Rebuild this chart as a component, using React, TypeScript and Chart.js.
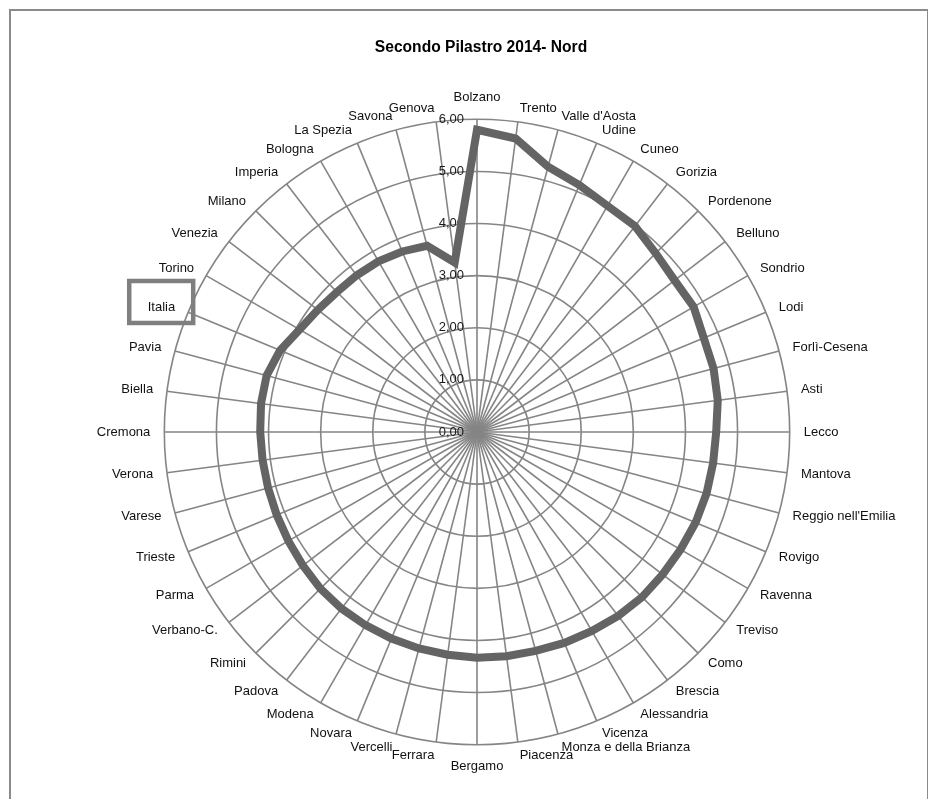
import React, { useEffect, useRef } from "react";
import { Chart, registerables } from "chart.js";

Chart.register(...registerables);

const TITLE = "Secondo Pilastro 2014- Nord";

const CATEGORIES = [
  "Bolzano", "Trento", "Valle d'Aosta", "Udine", "Cuneo", "Gorizia",
  "Pordenone", "Belluno", "Sondrio", "Lodi", "Forlì-Cesena", "Asti",
  "Lecco", "Mantova", "Reggio nell'Emilia", "Rovigo", "Ravenna", "Treviso",
  "Como", "Brescia", "Alessandria", "Vicenza", "Monza e della Brianza", "Piacenza",
  "Bergamo", "Ferrara", "Vercelli", "Novara", "Modena", "Padova",
  "Rimini", "Verbano-C.", "Parma", "Trieste", "Varese", "Verona",
  "Cremona", "Biella", "Pavia", "Italia", "Torino", "Venezia",
  "Milano", "Imperia", "Bologna", "La Spezia", "Savona", "Genova",
];

const VALUES = [
  5.80, 5.68, 5.27, 5.13, 5.01, 4.98,
  4.85, 4.78, 4.80, 4.71, 4.70, 4.66,
  4.59, 4.57, 4.56, 4.54, 4.51, 4.49,
  4.48, 4.45, 4.41, 4.38, 4.35, 4.34,
  4.33, 4.31, 4.30, 4.29, 4.28, 4.27,
  4.25, 4.21, 4.18, 4.16, 4.15, 4.15,
  4.16, 4.18, 4.18, 4.09, 3.93, 3.85,
  3.80, 3.79, 3.78, 3.75, 3.70, 3.28,
];

const TICK_VALUES = [0, 1, 2, 3, 4, 5, 6];
const TICK_LABELS = ["0,00", "1,00", "2,00", "3,00", "4,00", "5,00", "6,00"];

const HIGHLIGHT = "Italia";

const FONT = "'Liberation Sans', Arial, Helvetica, sans-serif";
const GRID = "#858585";

const labelCenterPlugin = {
  id: "labelCenter",
  afterLayout(chart: any) {
    const scale = chart.scales.r;
    const items = scale && scale._pointLabelItems;
    if (!items) return;
    const n = items.length;
    items.forEach((it: any, i: number) => {
      const angle = (i * 360) / n;
      if (angle % 90 === 0) return;
      const h = it.bottom - it.top;
      const shift = angle < 90 || angle > 270 ? h / 2 : -h / 2;
      it.y += shift;
      it.top += shift;
      it.bottom += shift;
    });
  },
};

const tickPlugin = {
  id: "tickLabels",
  beforeDatasetsDraw(chart: any) {
    const s = chart.scales.r;
    const ctx = chart.ctx;
    ctx.save();
    ctx.font = `13px ${FONT}`;
    ctx.fillStyle = "#1a1a1a";
    ctx.textAlign = "right";
    ctx.textBaseline = "middle";
    TICK_VALUES.forEach((v, i) => {
      const d = s.getDistanceFromCenterForValue(v);
      ctx.fillText(TICK_LABELS[i], s.xCenter - 13, s.yCenter - d);
    });
    ctx.restore();
  },
};

const highlightPlugin = {
  id: "highlightBox",
  afterDraw(chart: any) {
    const s = chart.scales.r;
    const idx = CATEGORIES.indexOf(HIGHLIGHT);
    const it = s._pointLabelItems && s._pointLabelItems[idx];
    if (!it) return;
    const ctx = chart.ctx;
    const cy = (it.top + it.bottom) / 2;
    ctx.save();
    ctx.strokeStyle = "#7f7f7f";
    ctx.lineWidth = 4.5;
    const x0 = it.left - 18.5;
    const x1 = it.right + 18;
    ctx.strokeRect(x0, cy - 26, x1 - x0, 42);
    ctx.restore();
  },
};

export default function App() {
  const ref = useRef<HTMLCanvasElement | null>(null);

  useEffect(() => {
    if (!ref.current) return;
    const chart = new Chart(ref.current, {
      type: "radar",
      data: {
        labels: CATEGORIES,
        datasets: [
          {
            label: "Secondo Pilastro",
            data: VALUES,
            borderColor: "#646464",
            borderWidth: 8,
            borderJoinStyle: "miter",
            fill: false,
            pointRadius: 0,
            pointHoverRadius: 0,
          },
        ],
      },
      options: {
        responsive: false,
        animation: false,
        layout: { padding: { left: 30, right: 6, top: 0, bottom: 25 } },
        plugins: {
          legend: { display: false },
          tooltip: { enabled: false },
          title: {
            display: true,
            text: TITLE,
            color: "#000",
            font: { family: FONT, size: 15.6, weight: "bold" },
            padding: { top: 27, bottom: 33 },
          },
        },
        scales: {
          r: {
            min: 0,
            max: 6,
            beginAtZero: true,
            ticks: { display: false, stepSize: 1 },
            grid: { color: GRID, lineWidth: 1.6, circular: true },
            angleLines: { color: GRID, lineWidth: 1.6 },
            pointLabels: {
              color: "#111",
              padding: 14,
              font: { family: FONT, size: 13 },
            },
          },
        },
      },
      plugins: [labelCenterPlugin, tickPlugin, highlightPlugin],
    } as any);
    return () => chart.destroy();
  }, []);

  return (
    <div
      style={{
        position: "relative",
        top: 1,
        left: 1,
        width: 920,
        height: 791,
        boxSizing: "border-box",
        borderTop: "2px solid #8a8a8a",
        borderLeft: "2px solid #8a8a8a",
        borderRight: "2px solid #8a8a8a",
        background: "#fff",
      }}
    >
      <div style={{ position: "absolute", left: 0, top: 0, width: 916, height: 789 }}>
        <canvas ref={ref} width={916} height={789} />
      </div>
    </div>
  );
}
